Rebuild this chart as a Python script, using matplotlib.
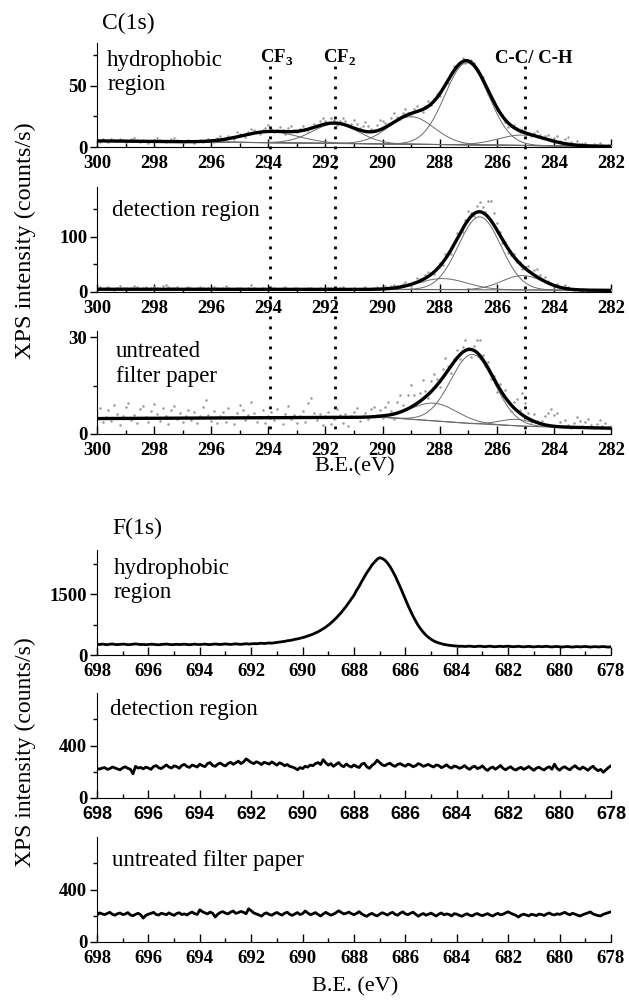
import numpy as np
import matplotlib.pyplot as plt
from matplotlib.ticker import MultipleLocator, FixedLocator
from matplotlib.transforms import blended_transform_factory

plt.rcParams['font.family'] = ['Liberation Serif', 'DejaVu Serif']
plt.rcParams['mathtext.fontset'] = 'custom'
plt.rcParams['mathtext.rm'] = 'Liberation Serif'
plt.rcParams['mathtext.bf'] = 'Liberation Serif:bold'

# ---------------- C(1s) fit parameters ----------------
c_hydro_centers = [293.95, 291.65, 289.0, 287.05, 285.1]
c_hydro_heights = [9.0, 16.0, 22.5, 67.0, 8.5]
c_hydro_fwhm = [2.3, 1.9, 1.9, 1.8, 2.0]
c_hydro_bg_E = [282, 300]
c_hydro_bg = [0.5, 5.0]

c_detect_centers = [287.9, 286.6, 285.1]
c_detect_heights = [20.0, 132.0, 26.0]
c_detect_fwhm = [2.0, 1.75, 1.7]
c_detect_bg_E = [282, 284, 289, 300]
c_detect_bg = [3.0, 3.5, 4.5, 5.0]

c_untreat_centers = [288.2, 286.85, 285.3]
c_untreat_heights = [5.5, 21.5, 2.0]
c_untreat_fwhm = [1.9, 1.8, 1.4]
c_untreat_bg_E = [282, 285, 287, 289, 290, 300]
c_untreat_bg = [1.8, 2.4, 3.3, 4.6, 5.2, 4.8]

# raw counts minus fit (every 0.1 eV, 300 -> 282 eV)
c_hydro_resid = [
    0.8, -0.5, 1.2, 0.3, -0.8, 1.5, 0.6, -0.3, 2.1, 0.9,
    -0.6, 0.4, 1.8, 2.6, 0.7, -0.4, 1.1, 0.2, -0.9, 0.5,
    1.3, 2.8, 1.6, 0.4, -0.7, 0.9, 2.2, 3.1, 1.4, 0.3,
    -0.5, 0.8, 1.7, 0.6, -1.0, 0.4, 1.2, -0.3, 0.7, 1.5,
    0.4, -1.2, 1.8, 2.9, 0.6, -0.9, 2.4, 1.1, -1.5, 3.6,
    2.0, 0.3, -1.8, 1.6, 4.2, 2.5, 0.7, -1.1, 1.9, 3.3,
    5.1, 2.2, -0.8, 1.4, 3.8, 0.9, -1.6, 2.7, 4.5, 1.2,
    -0.7, 2.0, 3.4, 0.5, -2.1, 1.3, 2.9, 0.2, 3.9, 5.4,
    2.8, 0.6, 4.1, 2.3, -1.4, 1.7, 5.2, 3.0, 0.4, 2.6,
    6.8, 4.2, 1.5, 3.8, 7.5, 5.1, 2.4, 0.9, 4.6, 8.1,
    6.2, 3.5, 1.1, 4.8, 7.2, 2.9, -0.6, 3.6, 5.8, 1.4,
    -2.2, 2.7, 4.9, 0.8, -1.9, 2.1, 4.4, -0.7, 1.8, 3.2,
    -1.5, 2.4, 0.6, -2.8, 1.9, 3.7, -0.9, 1.2, 2.8, -1.6,
    0.7, 2.3, 1.4, -2.1, -0.8, 1.6, -1.9, -3.2, -1.1, 0.5,
    -2.4, -0.6, 1.3, -1.8, -3.1, 0.8, 2.5, 1.1, -0.7, 1.9,
    3.4, 0.6, -1.2, 2.2, 4.1, 1.8, 0.4, 2.7, 3.5, 1.2,
    2.9, 4.6, 1.7, 0.5, 3.8, 5.6, 2.1, 0.8, 3.2, 1.5,
    0.4, 2.6, 1.1, 0.3, 1.8, 0.6, 2.3, 0.9, 0.2, 1.4,
    0.7]

c_detect_resid = [
    1.5, 3.2, 0.8, 2.4, 4.1, 1.2, -0.5, 2.8, 5.6, 3.1,
    1.4, 0.6, 2.9, 6.3, 3.7, 1.1, 2.5, 4.4, 0.9, 1.8,
    3.6, 2.2, 0.4, 5.1, 7.2, 3.3, 1.6, 2.7, 4.8, 1.3,
    0.5, 2.1, 3.9, 1.7, 0.2, 2.6, 4.3, 1.9, 0.8, 2.4,
    1.1, 3.5, 1.6, 0.3, 2.2, 5.4, 2.8, 1.0, 0.6, 1.9,
    3.1, 1.4, 0.2, 2.5, 7.8, 2.9, 1.3, 0.7, 2.0, 1.2,
    0.4, 1.8, 3.2, 1.1, 0.3, 2.3, 4.6, 1.5, 0.8, 1.7,
    2.8, 1.2, 0.5, 1.6, 3.4, 1.8, 0.6, 1.3, 2.5, 1.0,
    0.4, 1.9, 3.3, 1.4, 0.7, 2.1, 4.0, 1.6, 0.5, 1.2,
    2.4, 1.1, 0.3, 1.8, 3.6, 1.5, 0.6, 2.2, 3.1, 1.4,
    2.6, 4.8, 1.2, 3.5, 5.9, 2.1, -1.3, 4.2, 6.5, 2.8,
    -2.4, 3.1, 7.2, 4.0, -1.8, 5.6, 8.3, 2.5, -3.1, 4.4,
    6.8, -4.2, 9.5, 3.1, -7.6, 5.2, 12.4, 2.6, -5.8, 8.1,
    15.3, 6.2, -3.4, 10.6, 18.2, 9.7, 4.1, 28.5, 35.2, 22.4,
    12.6, 4.3, -6.2, 3.8, -8.4, -3.1, 5.7, -2.6, 2.9, -4.8,
    3.5, 7.8, 1.2, 9.4, 13.6, 6.1, 2.3, 8.7, 4.5, 1.6,
    -2.1, 3.4, 1.2, -1.6, 6.2, 2.8, 0.4, -1.2, 1.8, 0.6,
    -0.8, 1.4, 0.3, -0.5, 1.1, 0.2, -0.6, 0.9, 0.1, -0.3,
    0.4]

c_untreat_resid = [
    1.8, 3.4, -1.2, 0.6, 2.7, -0.8, 4.1, 1.5, -1.9, 0.9,
    3.6, 4.8, -0.6, 1.2, -1.5, 2.9, 3.8, 0.4, -1.1, 2.2,
    4.5, 1.3, -0.9, 3.1, 0.7, -1.7, 2.4, 3.9, -0.4, 1.6,
    -1.3, 0.8, 2.6, -0.7, 1.9, -1.6, 0.5, 3.3, 5.6, 1.1,
    -0.9, 2.1, -1.4, 0.6, 1.8, -1.1, 3.2, 0.3, -1.8, 1.4,
    4.1, 2.3, -0.8, 0.9, 4.8, 1.6, -1.2, 0.4, 2.5, -1.5,
    0.7, 1.9, -0.6, 2.8, 0.2, -2.1, 1.3, 3.6, -0.5, 0.8,
    -1.7, 0.5, 2.2, -1.3, 4.5, 6.2, 1.4, -0.8, 1.1, -2.4,
    0.6, 1.8, -1.9, -0.4, 2.6, 0.9, -1.6, 1.2, -2.6, 0.3,
    1.7, 2.9, -1.1, 0.5, 1.4, -0.7, 2.3, 3.1, 0.6, 1.8,
    -0.8, 2.5, 4.2, 1.1, -1.4, 3.6, 5.3, 2.0, 0.4, 4.1,
    6.8, 3.2, -0.6, 2.7, 5.9, 1.8, -1.2, 3.4, 4.6, 2.1,
    -1.6, 2.8, 4.9, 1.4, -2.2, 0.9, 2.6, -1.3, 1.7, 3.4,
    0.6, -2.4, 1.5, 3.8, 4.6, 1.2, -0.9, 2.1, -1.8, 0.7,
    -2.6, 1.4, -1.1, 2.3, 0.4, -1.9, 1.8, 3.5, 0.8, 6.9,
    4.2, 1.6, -0.7, 2.4, 0.5, -0.4, 1.1, 2.8, 3.9, 5.2,
    3.4, 4.1, 1.6, 0.4, 2.2, 0.8, -0.3, 1.4, 3.2, 2.1,
    0.5, 1.7, 2.6, 0.9, -0.2, 1.2, 2.4, 0.6, 1.5, 0.3,
    0.8]

# ---------------- F(1s) spectra (every 0.1 eV, 698 -> 678 eV) ----------------
f_hydro = [
    265, 258, 270, 262, 255, 268, 272, 260, 257, 263,
    270, 266, 255, 259, 268, 274, 265, 258, 262, 255,
    260, 268, 263, 257, 252, 261, 267, 270, 262, 256,
    259, 265, 258, 262, 268, 260, 254, 263, 269, 261,
    258, 264, 270, 262, 257, 266, 272, 265, 259, 268,
    274, 266, 261, 270, 276, 268, 264, 272, 279, 270,
    275, 283, 278, 286, 292, 284, 290, 298, 293, 302,
    310, 318, 330, 338, 352, 360, 372, 388, 398, 415,
    430, 448, 470, 492, 515, 545, 575, 610, 650, 690,
    740, 790, 850, 910, 980, 1050, 1130, 1210, 1300, 1390,
    1480, 1600, 1700, 1820, 1930, 2040, 2130, 2230, 2300, 2370,
    2410, 2390, 2350, 2280, 2190, 2080, 1960, 1820, 1680, 1530,
    1380, 1230, 1090, 960, 840, 730, 640, 560, 490, 435,
    390, 350, 320, 298, 280, 262, 250, 240, 232, 226,
    222, 215, 218, 210, 214, 220, 212, 207, 215, 219,
    211, 206, 214, 218, 209, 204, 212, 216, 208, 213,
    219, 210, 205, 211, 215, 207, 202, 209, 214, 206,
    201, 208, 212, 204, 209, 215, 206, 200, 207, 211,
    203, 198, 205, 210, 202, 196, 204, 209, 200, 206,
    212, 203, 197, 204, 208, 199, 205, 210, 201, 196, 203]

f_detect = [
    225, 220, 228, 232, 218, 224, 236, 229, 221, 215,
    230, 238, 226, 219, 184, 241, 228, 233, 222, 235,
    229, 218, 240, 247, 231, 224, 238, 252, 236, 228,
    245, 239, 226, 248, 256, 240, 233, 251, 244, 236,
    258, 246, 239, 262, 270, 248, 241, 258, 266, 252,
    244, 263, 272, 257, 268, 281, 262, 274, 298, 285,
    270, 262, 276, 268, 255, 272, 266, 258, 275, 263,
    250, 268, 260, 246, 255, 241, 236, 228, 215, 232,
    224, 242, 235, 251, 246, 262, 270, 255, 292, 268,
    250, 262, 241, 256, 270, 248, 238, 259, 244, 236,
    252, 240, 232, 258, 265, 238, 226, 248, 262, 288,
    270, 252, 246, 258, 265, 249, 241, 256, 262, 250,
    242, 258, 251, 238, 246, 262, 254, 241, 249, 256,
    244, 236, 252, 247, 231, 240, 253, 236, 228, 244,
    238, 226, 233, 247, 229, 218, 235, 242, 224, 231,
    245, 222, 210, 228, 236, 219, 232, 248, 226, 215,
    229, 238, 220, 213, 226, 234, 218, 227, 240, 224,
    211, 228, 235, 221, 214, 230, 238, 219, 258, 226,
    212, 230, 238, 224, 215, 233, 246, 228, 219, 236,
    225, 211, 229, 242, 221, 208, 218, 196, 214, 232, 245]

f_untreat = [
    205, 222, 214, 208, 218, 226, 211, 204, 216, 221,
    209, 213, 224, 206, 200, 211, 219, 207, 182, 203,
    212, 218, 226, 210, 205, 219, 214, 208, 222, 211,
    203, 217, 223, 209, 214, 206, 219, 228, 216, 210,
    245, 231, 222, 214, 228, 219, 190, 212, 225, 231,
    220, 214, 228, 236, 218, 224, 233, 226, 215, 253,
    238, 221, 214, 206, 197, 215, 222, 210, 204, 216,
    225, 213, 205, 219, 227, 211, 203, 214, 224, 209,
    216, 236, 221, 208, 215, 224, 210, 198, 213, 226,
    215, 204, 212, 223, 238, 226, 214, 219, 228, 216,
    208, 218, 231, 214, 203, 196, 210, 218, 206, 199,
    212, 223, 215, 205, 218, 226, 211, 204, 220, 230,
    214, 208, 219, 227, 212, 196, 209, 217, 204, 212,
    220, 208, 198, 213, 221, 207, 214, 210, 199, 216,
    212, 203, 196, 208, 215, 204, 199, 211, 217, 206,
    201, 209, 216, 205, 198, 210, 218, 207, 212, 222,
    230, 219, 211, 203, 190, 205, 212, 206, 199, 211,
    207, 201, 213, 209, 202, 214, 221, 210, 206, 215,
    210, 218, 226, 215, 207, 219, 212, 204, 198, 208,
    215, 222, 229, 214, 207, 201, 199, 211, 217, 224, 230]

c_labels = ["hydrophobic\nregion", "detection region", "untreated\nfilter paper"]
f_labels = ["hydrophobic\nregion", "detection region", "untreated filter paper"]
peak_names = [r"CF$_{\mathbf{3}}$", r"CF$_{\mathbf{2}}$", "C-C/ C-H"]
peak_lines = [293.95, 291.65, 285.0]
c_xticks = list(range(282, 301, 2))
f_xticks = list(range(678, 699, 2))


def gauss(E, c, h, w):
    return h * np.exp(-4 * np.log(2) * (E - c) ** 2 / w ** 2)


fig = plt.figure(figsize=(6.29, 10.01), dpi=100)
L, W = 97 / 629, 514 / 629
LBL = 16.5  # panel caption size


def make_ax(top_px, bot_px):
    ax = fig.add_axes([L, 1 - bot_px / 1001, W, (bot_px - top_px) / 1001])
    ax.patch.set_alpha(0)
    return ax


def style(ax, xlim, xticks, ylim, ymaj, ymin, sans=False):
    ax.set_xlim(*xlim)
    ax.set_ylim(*ylim)
    for s in ['top', 'right']:
        ax.spines[s].set_visible(False)
    ax.xaxis.set_major_locator(FixedLocator(xticks))
    ax.xaxis.set_minor_locator(MultipleLocator(1))
    ax.yaxis.set_major_locator(FixedLocator(ymaj))
    ax.yaxis.set_minor_locator(FixedLocator(ymin))
    ax.tick_params(axis='x', which='major', direction='in', length=6, width=1, pad=6)
    ax.tick_params(axis='x', which='minor', direction='in', length=3, width=1)
    ax.tick_params(axis='y', which='major', direction='out', length=5, width=1, pad=2)
    ax.tick_params(axis='y', which='minor', direction='out', length=3, width=1)
    for t in ax.get_yticklabels():
        t.set_fontsize(13.5)
        t.set_fontweight('bold')
    for t in ax.get_xticklabels():
        t.set_fontsize(13.5)
        t.set_fontweight('bold')
        if sans:
            t.set_family('Liberation Sans')
            t.set_fontsize(13)


# ---------------- C(1s) panels ----------------
E_fit = np.linspace(300, 282, 721)
E_raw = np.linspace(300, 282, 181)
c_sets = [
    (c_hydro_centers, c_hydro_heights, c_hydro_fwhm, c_hydro_bg_E, c_hydro_bg, c_hydro_resid,
     (43, 147), (0, 85), [0, 50], [25, 75]),
    (c_detect_centers, c_detect_heights, c_detect_fwhm, c_detect_bg_E, c_detect_bg, c_detect_resid,
     (187, 292), (0, 190), [0, 100], [50, 150]),
    (c_untreat_centers, c_untreat_heights, c_untreat_fwhm, c_untreat_bg_E, c_untreat_bg, c_untreat_resid,
     (331, 434), (0, 32), [0, 30], [15]),
]
c_axes = []
for i, (cen, hts, fw, bgE, bgv, res, px, ylim, ymaj, ymin) in enumerate(c_sets):
    ax = make_ax(*px)
    c_axes.append(ax)
    bg = np.interp(E_fit, bgE, bgv)
    env = bg.copy()
    for c, h, w in zip(cen, hts, fw):
        g = gauss(E_fit, c, h, w)
        env += g
        ax.plot(E_fit, bg + g, color='#6a6a6a', lw=0.7)
    ax.plot(E_fit, bg, color='#6a6a6a', lw=0.8)
    env_raw = np.interp(E_raw, E_fit[::-1], env[::-1])
    ax.plot(E_raw, env_raw + np.array(res), ls='none', marker='.', ms=1.6,
            color='#9a9a9a')
    ax.plot(E_fit, env, color='black', lw=2.4)
    style(ax, (300, 282), c_xticks, ylim, ymaj, ymin)

c_axes[0].text(0.02, 0.93, c_labels[0], transform=c_axes[0].transAxes,
               fontsize=LBL, va='top', ha='left', linespacing=1.2)
c_axes[1].text(0.03, 0.78, c_labels[1], transform=c_axes[1].transAxes,
               fontsize=LBL, va='center', ha='left')
c_axes[2].text(0.037, 0.68, c_labels[2], transform=c_axes[2].transAxes,
               fontsize=LBL, va='center', ha='left', linespacing=1.2)

# marker labels and dotted guide lines through the three C panels
tr = blended_transform_factory(c_axes[0].transData, fig.transFigure)
label_x = [293.7, 291.5, 284.7]
for name, xl, xline in zip(peak_names, label_x, peak_lines):
    c_axes[0].text(xl, 0.855, name, transform=c_axes[0].get_xaxis_transform(),
                   fontsize=13.5, fontweight='bold', ha='center', va='center')
    c_axes[0].plot([xline, xline], [1 - 66 / 1001, 1 - 434 / 1001], transform=tr,
                   color='black', lw=2.0, ls=(0, (1, 2.6)), clip_on=False, zorder=10)

fig.text(102 / 629, 1 - 23 / 1001, "C(1s)", fontsize=17,
         ha='left', va='center')
fig.text(355 / 629, 1 - 467 / 1001, "B.E.(eV)", fontsize=16, ha='center', va='center')
fig.text(25 / 629, 1 - 241 / 1001, "XPS intensity (counts/s)", fontsize=17.5,
         rotation=90, ha='center', va='center')

# ---------------- F(1s) panels ----------------
E_f = np.linspace(698, 678, 201)
f_sets = [
    (f_hydro, (550, 655), (0, 2600), [0, 1500], [750, 2250], False),
    (f_detect, (693, 798), (0, 800), [0, 400], [200, 600], True),
    (f_untreat, (837, 942), (0, 800), [0, 400], [200, 600], False),
]
f_axes = []
for vals, px, ylim, ymaj, ymin, sans in f_sets:
    ax = make_ax(*px)
    f_axes.append(ax)
    ax.plot(E_f, vals, color='black', lw=2.0)
    style(ax, (698, 678), f_xticks, ylim, ymaj, ymin, sans=sans)

f_axes[0].text(0.033, 0.71, f_labels[0], transform=f_axes[0].transAxes,
               fontsize=LBL, va='center', ha='left', linespacing=1.2)
f_axes[1].text(0.025, 0.84, f_labels[1], transform=f_axes[1].transAxes,
               fontsize=LBL, va='center', ha='left')
f_axes[2].text(0.03, 0.78, f_labels[2], transform=f_axes[2].transAxes,
               fontsize=LBL, va='center', ha='left')

fig.text(112 / 629, 1 - 528 / 1001, "F(1s)", fontsize=17, ha='left', va='center')
fig.text(355 / 629, 1 - 987 / 1001, "B.E. (eV)", fontsize=16,
         ha='center', va='center')
fig.text(25 / 629, 1 - 752 / 1001, "XPS intensity (counts/s)", fontsize=17,
         rotation=90, ha='center', va='center')

fig.savefig("out.png", dpi=100)
